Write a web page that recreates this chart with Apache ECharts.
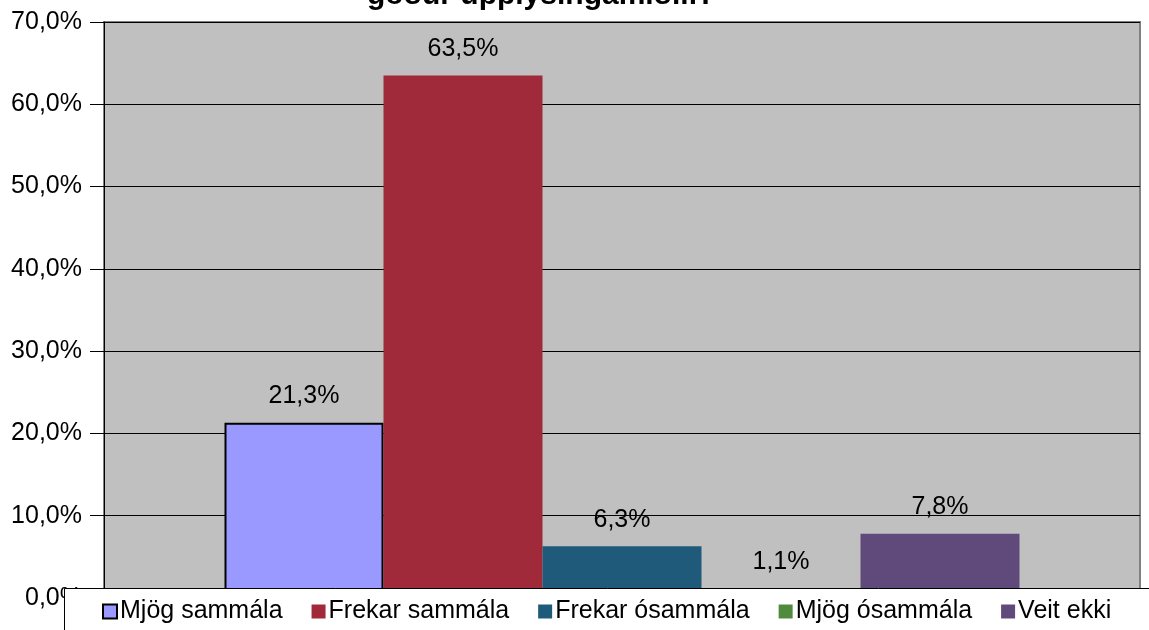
<!DOCTYPE html>
<html>
<head>
<meta charset="utf-8">
<style>
  html, body { margin: 0; padding: 0; background: #fff; }
  #chart { width: 1149px; height: 630px; }
</style>
<script src="https://cdn.jsdelivr.net/npm/echarts@6/dist/echarts.min.js"></script>
</head>
<body>
<div id="chart"></div>
<script>
// answer categories (one bar each) and their share in percent
const answers = ['Mjög sammála', 'Frekar sammála', 'Frekar ósammála', 'Mjög ósammála', 'Veit ekki']
const shares = [21.3, 63.5, 6.3, 1.1, 7.8]
const barColors = ['#9999ff', '#a0293a', '#1f5a7a', '#4f8a3f', '#604a7b']
const titleText = 'góður upplýsingamiðill?'

const font = '"Liberation Sans", Arial, sans-serif'
const pct = v => v.toFixed(1).replace('.', ',') + '%'

const chart = echarts.init(document.getElementById('chart'))

const series = answers.map((name, i) => ({
  name: name,
  type: 'bar',
  data: [shares[i]],
  barWidth: 159,
  barGap: '0%',
  itemStyle: {
    color: barColors[i],
    borderColor: i === 0 ? '#000' : barColors[i],
    borderWidth: i === 0 ? 2 : 0
  },
  label: {
    show: true,
    position: 'top',
    distance: 14,
    formatter: p => pct(p.value),
    color: '#000',
    fontFamily: font,
    fontSize: 25
  }
}))

chart.setOption({
  animation: false,
  title: {
    text: titleText,
    left: 362,
    top: -24,
    textStyle: { fontFamily: font, fontSize: 30, fontWeight: 'bold', color: '#000' }
  },
  grid: {
    left: 104,
    right: 9,
    top: 22,
    bottom: 32,
    show: true,
    backgroundColor: '#c0c0c0',
    borderColor: '#808080',
    borderWidth: 2
  },
  xAxis: {
    type: 'category',
    data: [''],
    axisLine: { show: false },
    axisTick: { show: false },
    axisLabel: { show: false }
  },
  yAxis: {
    type: 'value',
    min: 0,
    max: 70,
    interval: 10,
    axisLine: { show: true, lineStyle: { color: '#000', width: 1 } },
    axisTick: { show: true, length: 14, lineStyle: { color: '#000' } },
    axisLabel: {
      formatter: v => pct(v),
      color: '#000',
      fontFamily: font,
      fontSize: 25,
      margin: 22
    },
    splitLine: { show: true, lineStyle: { color: '#000', width: 1 } }
  },
  // legend box runs off the bottom-right edge of the picture
  graphic: [{
    type: 'rect',
    z: 3,
    shape: { x: 64.5, y: 588.5, width: 1200, height: 100 },
    style: { fill: '#fff', stroke: '#000', lineWidth: 1 }
  }],
  legend: {
    data: answers,
    left: 102,
    top: 599,
    itemWidth: 14,
    itemHeight: 14,
    itemGap: 29,
    padding: 0,
    icon: 'rect',
    textStyle: { fontFamily: font, fontSize: 25, color: '#000', padding: [0, 0, 0, -2] }
  },
  series: series
})
</script>
</body>
</html>
